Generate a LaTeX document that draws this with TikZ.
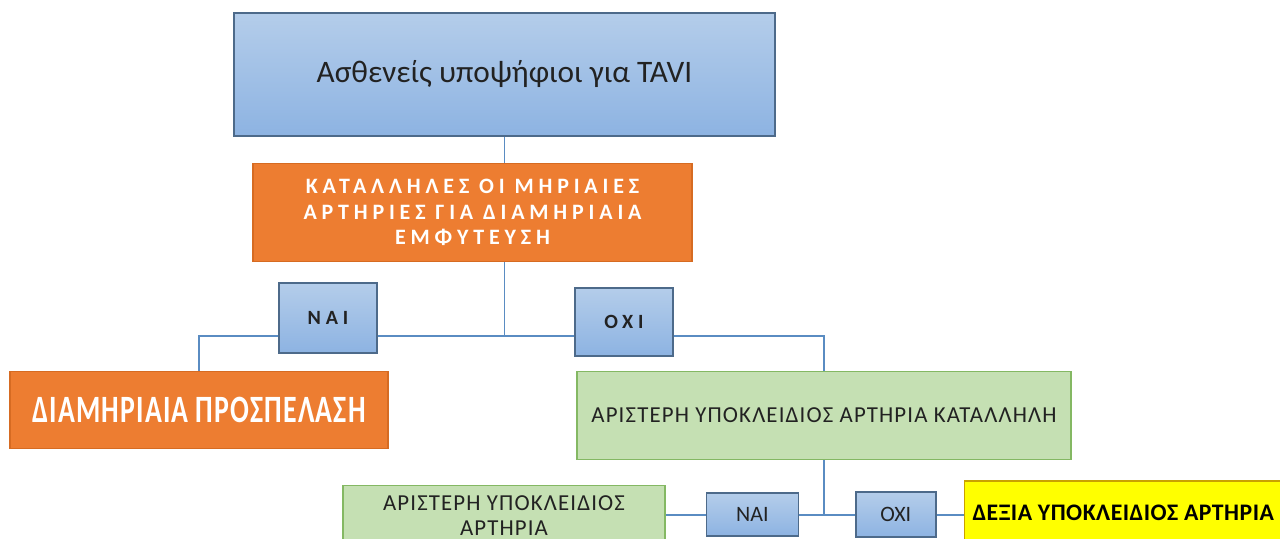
\documentclass[tikz,border=0pt]{standalone}
\usepackage{fontspec}
\setmainfont{Carlito}
\newfontfamily\widefont[LetterSpace=22]{Carlito}
\newfontfamily\yesnofont[LetterSpace=24]{Carlito}
\newfontfamily\narrowfont[FakeStretch=0.72,LetterSpace=3]{Carlito}
\newfontfamily\trackfont[LetterSpace=5]{Carlito}
\newfontfamily\boldtrackfont[LetterSpace=2]{Carlito}
\usepackage{tikz}
\usetikzlibrary{positioning,backgrounds,calc}

\definecolor{boxblueA}{HTML}{B4CDEA}
\definecolor{boxblueB}{HTML}{8DB3E2}
\definecolor{boxblueline}{HTML}{4D6A8A}
\definecolor{boxorange}{HTML}{ED7D31}
\definecolor{boxorangeline}{HTML}{D66B22}
\definecolor{boxgreen}{HTML}{C5E0B3}
\definecolor{boxgreenline}{HTML}{84B863}
\definecolor{boxyellow}{HTML}{FFFF00}
\definecolor{boxyellowline}{HTML}{C9A100}
\definecolor{linkblue}{HTML}{5A8CC2}
\definecolor{boxtext}{HTML}{222222}

\tikzset{
  bluebox/.style={rectangle,draw=boxblueline,line width=0.8pt,top color=boxblueA,bottom color=boxblueB,text=boxtext},
  orangebox/.style={rectangle,draw=boxorangeline,line width=0.8pt,fill=boxorange,text=white},
  greenbox/.style={rectangle,draw=boxgreenline,line width=0.8pt,fill=boxgreen,text=boxtext},
  yellowbox/.style={rectangle,draw=boxyellowline,line width=0.8pt,fill=boxyellow,text=black},
  link/.style={draw=linkblue,line width=1.1pt}
}

\begin{document}
\begin{tikzpicture}[node distance=0.5cm and 0.5cm, inner sep=2pt]
  \useasboundingbox (0,0) rectangle (25.6,-10.78);
  \node[bluebox,minimum width=10.82cm,minimum height=2.46cm,font=\fontsize{17.8}{21}\selectfont] (tavi) at (10.09,-1.49) {Ασθενείς υποψήφιοι για TAVI};
  \node[orangebox,minimum width=8.78cm,minimum height=1.96cm,align=center,font=\widefont\bfseries\fontsize{12.5}{14.7}\selectfont] (suit) [below=0.52cm of tavi, xshift=-0.64cm] {ΚΑΤΑΛΛΗΛΕΣ ΟΙ ΜΗΡΙΑΙΕΣ\\ΑΡΤΗΡΙΕΣ ΓΙΑ ΔΙΑΜΗΡΙΑΙΑ\\ΕΜΦΥΤΕΥΣΗ};

  \node[bluebox,minimum width=1.96cm,minimum height=1.4cm,font=\yesnofont\bfseries\fontsize{11.5}{14}\selectfont] (nai1) [below=0.4cm of suit, xshift=-2.89cm] {ΝΑΙ};
  \node[bluebox,minimum width=1.96cm,minimum height=1.36cm,font=\yesnofont\bfseries\fontsize{11.5}{14}\selectfont] (oxi1) [below=0.5cm of suit, xshift=3.03cm] {ΟΧΙ};

  \node[orangebox,minimum width=7.56cm,minimum height=1.54cm,font=\narrowfont\bfseries\fontsize{22}{25}\selectfont] (trans) [below=0.34cm of nai1, xshift=-2.58cm] {ΔΙΑΜΗΡΙΑΙΑ ΠΡΟΣΠΕΛΑΣΗ};
  \node[greenbox,minimum width=9.88cm,minimum height=1.76cm,font=\trackfont\fontsize{13}{15}\selectfont] (leftok) [below=0.28cm of oxi1, xshift=4cm] {ΑΡΙΣΤΕΡΗ ΥΠΟΚΛΕΙΔΙΟΣ ΑΡΤΗΡΙΑ ΚΑΤΑΛΛΗΛΗ};

  \node[greenbox,minimum width=6.44cm,minimum height=1.2cm,align=center,font=\trackfont\fontsize{13}{14.5}\selectfont] (leftsub) [below=0.5cm of leftok, xshift=-6.4cm] {ΑΡΙΣΤΕΡΗ ΥΠΟΚΛΕΙΔΙΟΣ\\ΑΡΤΗΡΙΑ};
  \node[bluebox,minimum width=1.84cm,minimum height=0.86cm,font=\fontsize{12.5}{15}\selectfont] (nai2) [right=0.8cm of leftsub, yshift=0.02cm] {ΝΑΙ};
  \node[bluebox,minimum width=1.6cm,minimum height=0.9cm,font=\fontsize{12.5}{15}\selectfont] (oxi2) [right=1.12cm of nai2] {ΟΧΙ};
  \node[yellowbox,minimum width=6.36cm,minimum height=1.26cm,font=\boldtrackfont\bfseries\fontsize{13.5}{16}\selectfont] (right) [right=0.54cm of oxi2, yshift=0.04cm] {ΔΕΞΙΑ ΥΠΟΚΛΕΙΔΙΟΣ ΑΡΤΗΡΙΑ};

  \coordinate (j1) at ($(tavi.south)+(0,-3.98)$);
  \coordinate (j2) at ($(leftok.south)+(0,-1.1)$);
  \begin{scope}[on background layer]
    \draw[link] (tavi.south) -- (j1);
    \draw[link] (trans.north) |- (j1) -| (leftok.north);
    \draw[link] (leftok.south) -- (j2);
    \draw[link] (leftsub.east |- j2) -- (right.west |- j2);
  \end{scope}
\end{tikzpicture}
\end{document}
